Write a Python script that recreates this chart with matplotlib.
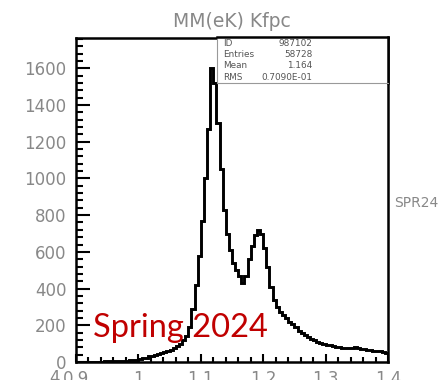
import numpy as np
import matplotlib
matplotlib.use('Agg')
from matplotlib import pyplot as plt
from matplotlib.ticker import MultipleLocator

# MM(eK) Kfpc, 100 bins between 0.9 and 1.4
x_lo, x_hi, n_bins = 0.9, 1.4, 100
counts = [
    0, 1, 0, 1, 1, 2, 1, 2, 2, 3,
    3, 4, 4, 5, 6, 6, 8, 9, 10, 12,
    15, 20, 24, 30, 35, 40, 44, 49, 54, 58,
    66, 75, 85, 100, 118, 140, 190, 290, 420, 580,
    770, 1000, 1270, 1600, 1520, 1300, 1050, 830, 700, 610,
    540, 500, 470, 430, 470, 560, 630, 690, 720, 700,
    620, 520, 410, 340, 300, 275, 255, 240, 220, 205,
    190, 170, 160, 145, 135, 125, 118, 110, 104, 98,
    95, 90, 88, 84, 80, 78, 76, 74, 78, 82,
    78, 72, 70, 68, 66, 62, 60, 58, 54, 50,
]
stats_names = ['ID', 'Entries', 'Mean', 'RMS']
stats_values = ['987102', '58728', '1.164', '0.7090E-01']

grey = '#888888'
fig = plt.figure(figsize=(4.43, 3.80), dpi=100)
ax = fig.add_axes([76 / 443, 18 / 380, 312 / 443, 324 / 380])

edges = np.linspace(x_lo, x_hi, n_bins + 1)
ax.stairs(counts, edges, color='black', linewidth=2.1)

ax.set_xlim(x_lo, x_hi)
ax.set_ylim(0, 1765)
ax.xaxis.set_major_locator(MultipleLocator(0.1))
ax.xaxis.set_minor_locator(MultipleLocator(0.02))
ax.yaxis.set_major_locator(MultipleLocator(200))
ax.yaxis.set_minor_locator(MultipleLocator(40))
ax.xaxis.set_major_formatter(lambda v, p: f'{v:g}')

ax.tick_params(axis='both', which='both', direction='in', width=1.5,
               colors='black', labelcolor=grey, labelsize=12)
ax.tick_params(axis='y', which='major', length=10, pad=7)
ax.tick_params(axis='y', which='minor', length=5)
ax.tick_params(axis='x', which='major', length=6, pad=6)
ax.tick_params(axis='x', which='minor', length=3.5)
ax.tick_params(top=False, right=False, which='both')
for s in ax.spines.values():
    s.set_linewidth(1.8)

ax.set_title('MM(eK) Kfpc', fontsize=13.5, color=grey, pad=8)

# statistics box in the upper right corner
ax_box = fig.add_axes([217 / 443, (380 - 83) / 380, 171 / 443, 46 / 380])
ax_box.set_xticks([])
ax_box.set_yticks([])
ax_box.set_xlim(0, 1)
ax_box.set_ylim(0, 1)
for name, s in ax_box.spines.items():
    s.set_color('#999999' if name in ('left', 'bottom') else 'black')
    s.set_linewidth(0.8 if name in ('left', 'bottom') else 1.8)
for i, (name, val) in enumerate(zip(stats_names, stats_values)):
    yy = 0.86 - i * 0.245
    ax_box.text(0.035, yy, name, fontsize=6.4, color='#555555', va='center')
    ax_box.text(0.56, yy, val, fontsize=6.4, color='#555555', va='center', ha='right')

ax.text(93 / 443, 43 / 380, 'Spring 2024', transform=fig.transFigure,
        fontsize=23.5, color='#c00000', family=['Lato', 'DejaVu Sans'])

# neighbouring panel labels cut off at the edges
fig.text(394 / 443, 1 - 203 / 380, 'SPR24', fontsize=10, color=grey, va='center')
fig.text(54 / 443, 1 - 378 / 380, '4', fontsize=12, color=grey, va='center', ha='center')

fig.savefig('out.png', dpi=100)
